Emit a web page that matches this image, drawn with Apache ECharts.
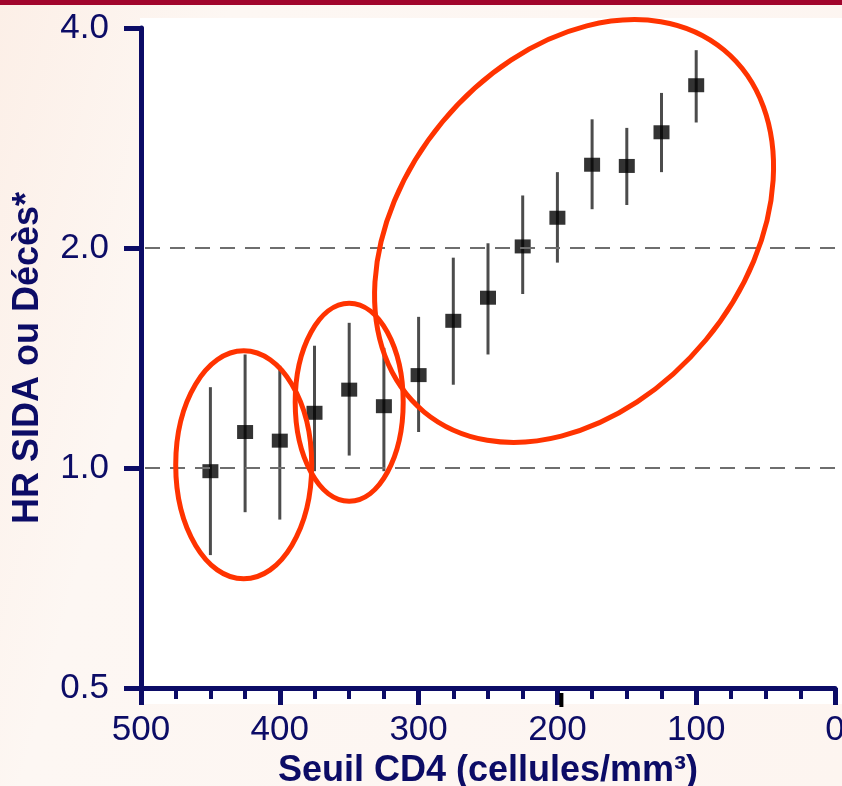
<!DOCTYPE html>
<html>
<head>
<meta charset="utf-8">
<script src="https://cdn.jsdelivr.net/npm/echarts@6/dist/echarts.min.js"></script>
<style>
  html, body { margin: 0; padding: 0; width: 842px; height: 786px; overflow: hidden; }
  body { background: linear-gradient(105deg, #fcefe7 0%, #fdf7f3 22%, #fdf6f2 60%, #fdf5f0 100%); position: relative; }
  #topbar { position: absolute; left: 0; top: 0; width: 842px; height: 5px; background: #a1052c; }
  #panel { position: absolute; left: 140px; top: 18px; width: 702px; height: 686px; background: #ffffff; }
  #chart { position: absolute; left: 0; top: 0; width: 842px; height: 786px; }
</style>
</head>
<body>
<div id="topbar"></div>
<div id="panel"></div>
<div id="chart"></div>
<script>
// CD4 thresholds (cells/mm3) and hazard ratios with 95% confidence limits
const cd4Thresholds = [450, 425, 400, 375, 350, 325, 300, 275, 250, 225, 200, 175, 150, 125, 100];
const hazardRatio   = [0.99, 1.12, 1.09, 1.19, 1.28, 1.215, 1.34, 1.59, 1.71, 2.01, 2.20, 2.60, 2.59, 2.88, 3.34];
const ciLow         = [0.76, 0.87, 0.85, 0.99, 1.04, 0.99, 1.12, 1.30, 1.43, 1.73, 1.91, 2.26, 2.29, 2.54, 2.97];
const ciHigh        = [1.29, 1.43, 1.38, 1.47, 1.58, 1.46, 1.61, 1.94, 2.03, 2.36, 2.54, 3.00, 2.92, 3.26, 3.73];
// Reference hazard ratios shown as dashed lines
const referenceLines = [1, 2];

// Highlight rings around groups of thresholds (centre in data units)
const highlightGroups = [
  { cd4: 426, hr: 1.01, rx: 68, ry: 114, tilt: 0 },
  { cd4: 350, hr: 1.23, rx: 54, ry: 99, tilt: 0 },
  { cd4: 188, hr: 2.11, rx: 235, ry: 171, tilt: 50.4 }
];

const NAVY = '#0c0c66';
const FONT = '"Liberation Sans", Arial, Helvetica, sans-serif';

const chart = echarts.init(document.getElementById('chart'), null, { renderer: 'canvas' });

function renderErrorBar(params, api) {
  const x = api.value(0);
  const lo = api.coord([x, api.value(1)]);
  const hi = api.coord([x, api.value(2)]);
  return {
    type: 'line',
    shape: { x1: lo[0], y1: lo[1], x2: hi[0], y2: hi[1] },
    style: { stroke: '#4c4c4c', lineWidth: 3 }
  };
}

chart.setOption({
  backgroundColor: 'transparent',
  animation: false,
  grid: { left: 141, right: 7, top: 28, bottom: 98, containLabel: false, outerBoundsMode: 'none' },
  xAxis: {
    type: 'value',
    min: 0, max: 500, interval: 100,
    inverse: true,
    name: 'Seuil CD4 (cellules/mm³)',
    nameLocation: 'middle',
    nameGap: 65,
    nameTextStyle: { color: NAVY, fontSize: 36, fontWeight: 'bold', fontFamily: FONT },
    axisLine: { show: true, onZero: false, lineStyle: { color: NAVY, width: 5 } },
    axisTick: { show: true, length: 17, lineStyle: { color: NAVY, width: 5 } },
    minorTick: { show: true, splitNumber: 4, length: 11, lineStyle: { color: NAVY, width: 4 } },
    axisLabel: { color: NAVY, fontSize: 35, fontFamily: FONT, margin: 25 },
    splitLine: { show: false },
    minorSplitLine: { show: false }
  },
  yAxis: {
    type: 'log',
    logBase: 2,
    min: 0.5, max: 4,
    name: 'HR SIDA ou Décès*',
    nameLocation: 'middle',
    nameRotate: 90,
    nameGap: 95,
    nameTextStyle: { color: NAVY, fontSize: 36, fontWeight: 'bold', fontFamily: FONT },
    axisLine: { show: true, onZero: false, lineStyle: { color: NAVY, width: 5 } },
    axisTick: { show: true, length: 17, lineStyle: { color: NAVY, width: 5 } },
    axisLabel: {
      color: NAVY, fontSize: 35, fontFamily: FONT, margin: 32,
      formatter: v => Number(v).toFixed(1)
    },
    splitLine: { show: false }
  },
  series: [
    {
      type: 'custom',
      name: 'IC 95%',
      renderItem: renderErrorBar,
      encode: { x: 0, y: [1, 2] },
      data: cd4Thresholds.map((x, i) => [x, ciLow[i], ciHigh[i]]),
      z: 2
    },
    {
      type: 'scatter',
      name: 'HR',
      symbol: 'rect',
      symbolSize: [16, 14],
      itemStyle: { color: '#000000' },
      data: cd4Thresholds.map((x, i) => [x, hazardRatio[i]]),
      z: 3,
      markLine: {
        silent: true,
        symbol: 'none',
        label: { show: false },
        lineStyle: { type: [15, 10], color: '#6e6e6e', width: 2 },
        data: referenceLines.map(v => ({ yAxis: v }))
      }
    }
  ]
});

// Rings and the extra tick are placed from data coordinates once the axes exist
const rings = highlightGroups.map(g => {
  const p = chart.convertToPixel({ gridIndex: 0 }, [g.cd4, g.hr]);
  return {
    type: 'ellipse',
    x: p[0], y: p[1],
    rotation: g.tilt * Math.PI / 180,
    shape: { cx: 0, cy: 0, rx: g.rx, ry: g.ry },
    style: { fill: 'none', stroke: '#ff3300', lineWidth: 5 },
    z: 100
  };
});
const tick200 = chart.convertToPixel({ gridIndex: 0 }, [200, 0.5]);
chart.setOption({
  graphic: [
    ...rings,
    {
      type: 'line',
      shape: { x1: tick200[0] + 4, y1: tick200[1] + 5, x2: tick200[0] + 4, y2: tick200[1] + 19 },
      style: { stroke: '#000000', lineWidth: 4 },
      z: 100
    }
  ]
});
</script>
</body>
</html>
